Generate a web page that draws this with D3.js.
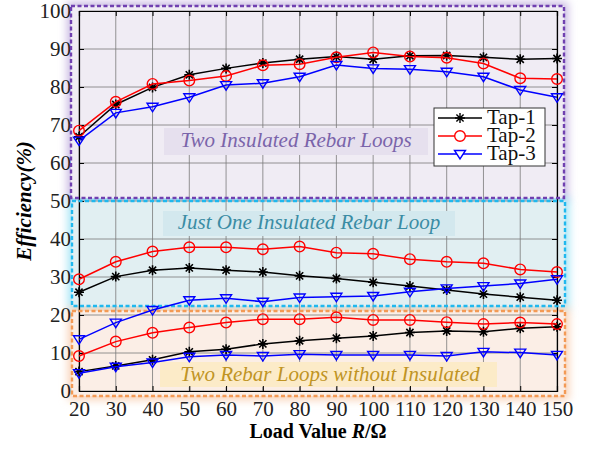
<!DOCTYPE html>
<html>
<head>
<meta charset="utf-8">
<script src="https://cdn.jsdelivr.net/npm/d3@7"></script>
<style>
  body { margin: 0; background: #fff; }
  svg text { font-family: "Liberation Serif", "DejaVu Serif", serif !important; }
</style>
</head>
<body>
<div id="chart"></div>
<script>
// load values (ohm)
var loads = [20, 30, 40, 50, 60, 70, 80, 90, 100, 110, 120, 130, 140, 150];

// Two insulated rebar loops
var twoIns_tap1 = [66.9, 75.4, 79.9, 83.2, 84.9, 86.3, 87.3, 88.0, 87.3, 88.2, 88.3, 87.8, 87.3, 87.5];
var twoIns_tap2 = [68.5, 76.1, 80.8, 81.7, 82.9, 85.7, 86.0, 87.8, 89.1, 88.0, 87.7, 86.2, 82.3, 82.1];
var twoIns_tap3 = [65.9, 73.2, 74.8, 77.3, 80.5, 81.0, 82.7, 85.8, 84.9, 84.7, 84.0, 82.7, 79.2, 77.3];

// Just one insulated rebar loop
var oneIns_tap1 = [26.0, 30.1, 31.8, 32.4, 31.8, 31.3, 30.3, 29.6, 28.6, 27.6, 26.6, 25.5, 24.7, 23.9];
var oneIns_tap2 = [29.4, 34.0, 36.7, 37.8, 37.8, 37.3, 38.0, 36.4, 36.1, 34.7, 34.0, 33.6, 32.0, 31.3];
var oneIns_tap3 = [13.6, 18.0, 21.3, 23.9, 24.4, 23.5, 24.6, 24.8, 25.0, 26.1, 27.0, 27.6, 28.3, 29.4];

// Two rebar loops without insulation
var noIns_tap1 = [5.1, 6.6, 8.2, 10.3, 11.0, 12.4, 13.2, 13.9, 14.5, 15.4, 15.8, 15.6, 16.5, 16.9];
var noIns_tap2 = [9.2, 13.0, 15.3, 16.7, 18.0, 18.9, 18.9, 19.4, 18.7, 18.7, 18.1, 17.6, 18.0, 17.6];
var noIns_tap3 = [4.7, 6.4, 7.5, 9.0, 9.5, 9.2, 9.7, 9.5, 9.5, 9.5, 9.2, 10.3, 10.1, 9.5];

var xTicks = [20, 30, 40, 50, 60, 70, 80, 90, 100, 110, 120, 130, 140, 150];
var yTicks = [0, 10, 20, 30, 40, 50, 60, 70, 80, 90, 100];
var tapNames = ["Tap-1", "Tap-2", "Tap-3"];
var tapColors = ["#000000", "#ff0000", "#0000ff"];
var regionNames = ["Two Insulated Rebar Loops", "Just One Insulated Rebar Loop", "Two Rebar Loops without Insulated"];

var width = 589, height = 449;
var plotLeft = 79, plotRight = 557, plotTop = 11, plotBottom = 391;

var svg = d3.select("#chart").append("svg")
  .attr("width", width)
  .attr("height", height);

var x = d3.scaleLinear().domain([20, 150]).range([plotLeft, plotRight]);
var y = d3.scaleLinear().domain([0, 100]).range([plotBottom, plotTop]);

var defs = svg.append("defs");
defs.append("filter").attr("id", "glow")
  .attr("x", "-10%").attr("y", "-20%").attr("width", "120%").attr("height", "140%")
  .append("feGaussianBlur").attr("stdDeviation", 4);

// shaded regions behind the plot
var regions = [
  {x0: 71, x1: 564, y0: 6, y1: 198, fill: "#f0ecf4", glow: "#c9b9e2", stroke: "#7040b0",
   box: [164, 128, 428, 155], boxFill: "#e6e0ee", tx: 296, ty: 147, color: "#7a64aa"},
  {x0: 72, x1: 565, y0: 201, y1: 306, fill: "#e1eff2", glow: "#a4e4f5", stroke: "#20b8ee",
   box: [163, 211, 455, 236], boxFill: "#d3e8ee", tx: 309, ty: 229, color: "#3a8ca4"},
  {x0: 72, x1: 565, y0: 311, y1: 396, fill: "#fbeee6", glow: "#f8d2b8", stroke: "#f39a55",
   box: [160, 362, 497, 387], boxFill: "#fcebc8", tx: 330, ty: 381, color: "#c09424"}
];

regions.forEach(function(r) {
  svg.append("rect")
    .attr("x", r.x0 - 4).attr("y", r.y0 - 4)
    .attr("width", r.x1 - r.x0 + 8).attr("height", r.y1 - r.y0 + 8)
    .attr("fill", r.glow)
    .attr("filter", "url(#glow)");
});
regions.forEach(function(r) {
  svg.append("rect")
    .attr("x", r.x0).attr("y", r.y0)
    .attr("width", r.x1 - r.x0).attr("height", r.y1 - r.y0)
    .attr("fill", r.fill);
});

// grid
var grid = svg.append("g");
grid.selectAll(".gx").data(xTicks).enter().append("line")
  .attr("x1", function(d) { return x(d); }).attr("x2", function(d) { return x(d); })
  .attr("y1", plotTop).attr("y2", plotBottom)
  .attr("stroke", "#7a7a7a").attr("stroke-width", 0.8);
grid.selectAll(".gy").data(yTicks).enter().append("line")
  .attr("x1", plotLeft).attr("x2", plotRight)
  .attr("y1", function(d) { return y(d); }).attr("y2", function(d) { return y(d); })
  .attr("stroke", "#7a7a7a").attr("stroke-width", 0.8);

// label backgrounds
regions.forEach(function(r) {
  svg.append("rect")
    .attr("x", r.box[0]).attr("y", r.box[1])
    .attr("width", r.box[2] - r.box[0]).attr("height", r.box[3] - r.box[1])
    .attr("fill", r.boxFill);
});

// axes
svg.append("g")
  .attr("transform", "translate(0," + plotBottom + ")")
  .call(d3.axisBottom(x).tickValues(xTicks).tickSize(-5).tickPadding(10));
svg.append("g")
  .attr("transform", "translate(" + plotLeft + ",0)")
  .call(d3.axisLeft(y).tickValues(yTicks).tickSize(-5).tickPadding(8));
svg.append("g")
  .attr("transform", "translate(" + plotRight + ",0)")
  .call(d3.axisRight(y).tickValues(yTicks).tickSize(-5).tickFormat(""));
svg.append("g")
  .attr("transform", "translate(0," + plotTop + ")")
  .call(d3.axisTop(x).tickValues(xTicks).tickSize(-5).tickFormat(""));
svg.selectAll(".domain").attr("stroke", "#000").attr("stroke-width", 1.2);
svg.selectAll(".tick line").attr("stroke", "#000");
svg.selectAll(".tick text")
  .style("font-size", "21px")
  .attr("fill", "#222");

// dashed region borders
regions.forEach(function(r) {
  svg.append("rect")
    .attr("x", r.x0).attr("y", r.y0)
    .attr("width", r.x1 - r.x0).attr("height", r.y1 - r.y0)
    .attr("fill", "none")
    .attr("stroke", r.stroke)
    .attr("stroke-width", 2.4)
    .attr("stroke-dasharray", "4,2.5");
});

// region labels
regions.forEach(function(r, i) {
  svg.append("text")
    .attr("x", r.tx).attr("y", r.ty)
    .attr("text-anchor", "middle")
    .style("font-style", "italic")
    .style("font-size", "21px")
    .attr("fill", r.color)
    .text(regionNames[i]);
});

// markers
function markerPath(k) {
  if (k === 0) {
    var s = 5, a = 3.6;
    return "M" + (-s) + ",0L" + s + ",0M0," + (-s) + "L0," + s +
      "M" + (-a) + "," + (-a) + "L" + a + "," + a + "M" + (-a) + "," + a + "L" + a + "," + (-a);
  }
  if (k === 2) return "M-5.5,-3.5L5.5,-3.5L0,5Z";
  return null;
}

function drawSeries(values, k) {
  var line = d3.line()
    .x(function(d, i) { return x(loads[i]); })
    .y(function(d) { return y(d); });
  svg.append("path")
    .datum(values)
    .attr("d", line)
    .attr("fill", "none")
    .attr("stroke", tapColors[k])
    .attr("stroke-width", 1.5);
  var g = svg.append("g");
  if (k === 1) {
    g.selectAll("circle").data(values).enter().append("circle")
      .attr("cx", function(d, i) { return x(loads[i]); })
      .attr("cy", function(d) { return y(d); })
      .attr("r", 5.3)
      .attr("fill", "none")
      .attr("stroke", tapColors[k])
      .attr("stroke-width", 1.4);
  } else {
    g.selectAll("path").data(values).enter().append("path")
      .attr("d", markerPath(k))
      .attr("transform", function(d, i) { return "translate(" + x(loads[i]) + "," + y(d) + ")"; })
      .attr("fill", "none")
      .attr("stroke", tapColors[k])
      .attr("stroke-width", k === 0 ? 1.6 : 1.4);
  }
}

[noIns_tap1, noIns_tap2, noIns_tap3].forEach(function(v, k) { drawSeries(v, k); });
[oneIns_tap1, oneIns_tap2, oneIns_tap3].forEach(function(v, k) { drawSeries(v, k); });
[twoIns_tap1, twoIns_tap2, twoIns_tap3].forEach(function(v, k) { drawSeries(v, k); });

// legend
var legend = svg.append("g");
legend.append("rect")
  .attr("x", 434).attr("y", 108).attr("width", 111).attr("height", 58)
  .attr("fill", "#fff").attr("stroke", "#333").attr("stroke-width", 1);
tapNames.forEach(function(name, k) {
  var ly = 118 + k * 18;
  legend.append("line")
    .attr("x1", 438).attr("x2", 482).attr("y1", ly).attr("y2", ly)
    .attr("stroke", tapColors[k]).attr("stroke-width", 1.5);
  if (k === 1) {
    legend.append("circle").attr("cx", 460).attr("cy", ly).attr("r", 5.3)
      .attr("fill", "#fff").attr("stroke", tapColors[k]).attr("stroke-width", 1.4);
  } else {
    legend.append("path").attr("d", markerPath(k))
      .attr("transform", "translate(460," + ly + ")")
      .attr("fill", k === 2 ? "#fff" : "none")
      .attr("stroke", tapColors[k]).attr("stroke-width", 1.4);
  }
  legend.append("text")
    .attr("x", 487).attr("y", ly + 6)
    .style("font-size", "21px")
    .attr("fill", "#111")
    .text(name);
});

// axis titles
svg.append("text")
  .attr("transform", "translate(31,201) rotate(-90)")
  .attr("text-anchor", "middle")
  .style("font-size", "21px")
  .style("font-weight", "bold")
  .style("font-style", "italic")
  .text("Efficiency(%)");

var xt = svg.append("text")
  .attr("x", 318).attr("y", 438)
  .attr("text-anchor", "middle")
  .style("font-size", "20px")
  .style("font-weight", "bold");
xt.append("tspan").text("Load Value ");
xt.append("tspan").style("font-style", "italic").text("R");
xt.append("tspan").text("/Ω");
</script>
</body>
</html>
